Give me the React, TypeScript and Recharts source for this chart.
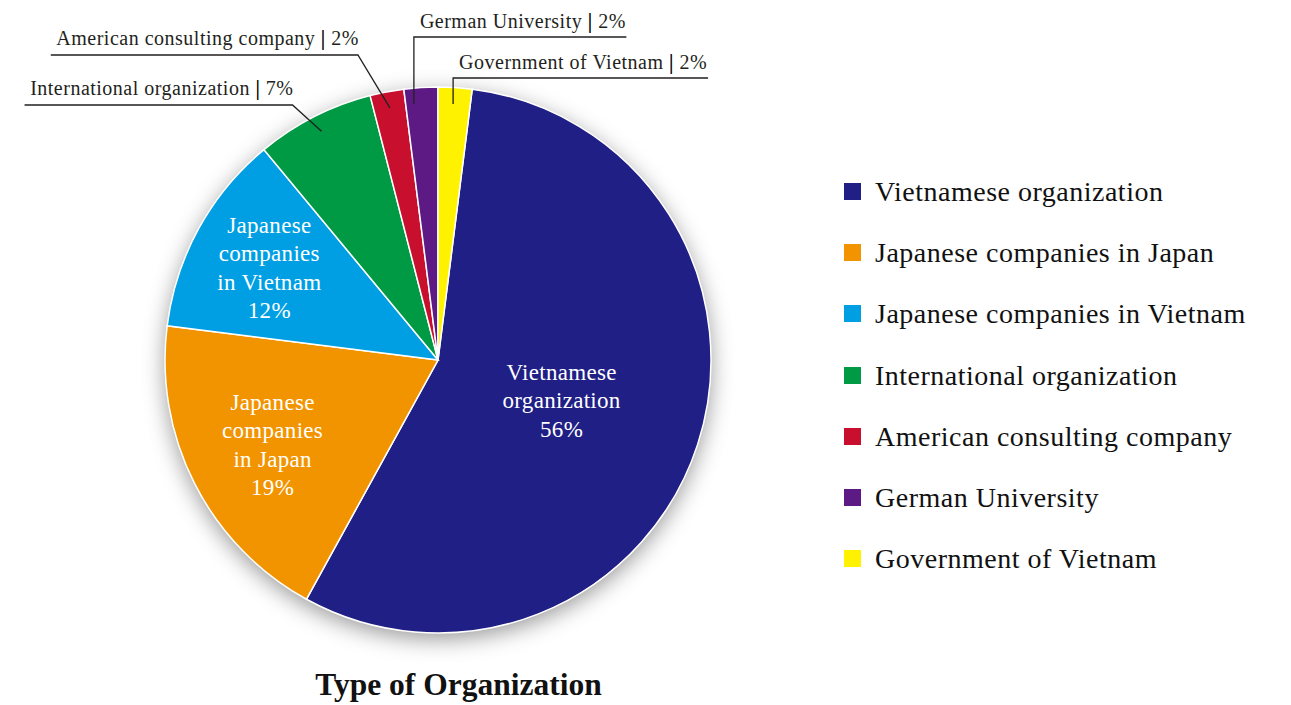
import { PieChart, Pie, Cell, Legend } from 'recharts';

const CATEGORIES = [
  'Vietnamese organization',
  'Japanese companies in Japan',
  'Japanese companies in Vietnam',
  'International organization',
  'American consulting company',
  'German University',
  'Government of Vietnam',
];
const SHARES = [56, 19, 12, 7, 2, 2, 2];
const COLORS = ['#1f1f85', '#f29400', '#009fe3', '#009a44', '#c8102e', '#5e1a84', '#fff200'];
const CHART_TITLE = 'Type of Organization';

const data = CATEGORIES.map((name, i) => ({ name, value: SHARES[i] }));
const total = SHARES.reduce((a, b) => a + b, 0);
// last slice (Government) ends exactly at 12 o'clock, going clockwise
const START = 90 - (SHARES[SHARES.length - 1] / total) * 360;

const SERIF = '"Liberation Serif", "Times New Roman", serif';
const INK = '#231f20';
const RADIAN = Math.PI / 180;

// leader line layout for the small slices (offsets relative to chart centre)
const LEADERS: Record<string, { side: 'left' | 'right'; elbowDx: number; lineDy: number }> = {
  'International organization': { side: 'left', elbowDx: -29, lineDy: -255 },
  'American consulting company': { side: 'left', elbowDx: -32, lineDy: -305 },
  'German University': { side: 'right', elbowDx: -8, lineDy: -323 },
  'Government of Vietnam': { side: 'right', elbowDx: -1, lineDy: -282 },
};

let canvas: HTMLCanvasElement | null = null;
function textWidth(text: string, font: string, spacing: number) {
  if (!canvas) canvas = document.createElement('canvas');
  const ctx = canvas.getContext('2d')!;
  ctx.font = font;
  return ctx.measureText(text).width + spacing * text.length;
}

function wrapName(name: string) {
  const words = name.split(' ');
  const lines: string[] = [];
  for (let i = 0; i < words.length; i++) {
    if (words[i] === 'in' && i + 1 < words.length) {
      lines.push(`in ${words[i + 1]}`);
      i++;
    } else {
      lines.push(words[i]);
    }
  }
  return lines;
}

function OuterText({ name, pct }: { name: string; pct: number }) {
  return (
    <>
      {name}{' '}
      <tspan fontWeight="bold" fill="#000">|</tspan> {pct}%
    </>
  );
}

function renderLabel(props: any) {
  const { cx, cy, midAngle, outerRadius, percent, name } = props;
  const pct = Math.round(percent * 100);
  const cos = Math.cos(-midAngle * RADIAN);
  const sin = Math.sin(-midAngle * RADIAN);

  const leader = LEADERS[name];
  if (!leader) {
    const ratio = percent > 0.5 ? 0.476 : percent > 0.15 ? 0.68 : 0.705;
    const r = outerRadius * ratio;
    const x = cx + r * cos;
    const y = cy + r * sin;
    const lines = [...wrapName(name), `${pct}%`];
    const lh = 28.5;
    return (
      <text x={x} y={y} fill="#fff" textAnchor="middle" fontFamily={SERIF} fontSize={23} style={{ letterSpacing: 0.3 }}>
        {lines.map((l, i) => (
          <tspan key={i} x={x} y={y + (i - (lines.length - 1) / 2) * lh} dy="0.35em">
            {l}
          </tspan>
        ))}
      </text>
    );
  }

  const r0 = outerRadius * 0.94;
  const w = textWidth(`${name} | ${pct}%`, `20px ${SERIF}`, 0.5);
  const lineY = cy + leader.lineDy;
  if (leader.side === 'left') {
    const px = cx + r0 * cos;
    const py = cy + r0 * sin;
    const ex = px + leader.elbowDx;
    return (
      <g>
        <path d={`M${px},${py}L${ex},${lineY}L${ex - w - 5},${lineY}`} stroke={INK} strokeWidth={1.3} fill="none" />
        <text x={ex + 1} y={lineY - 10} textAnchor="end" fill={INK} fontFamily={SERIF} fontSize={20} style={{ letterSpacing: 0.5 }}>
          <OuterText name={name} pct={pct} />
        </text>
      </g>
    );
  }
  const ex = cx + r0 * cos + leader.elbowDx;
  const py = cy + r0 * sin;
  return (
    <g>
      <path d={`M${ex},${py}L${ex},${lineY}L${ex + 6 + w + 1},${lineY}`} stroke={INK} strokeWidth={1.3} fill="none" />
      <text x={ex + 6} y={lineY - 9} textAnchor="start" fill={INK} fontFamily={SERIF} fontSize={20} style={{ letterSpacing: 0.5 }}>
        <OuterText name={name} pct={pct} />
      </text>
    </g>
  );
}

function LegendList() {
  return (
    <div style={{ fontFamily: SERIF, fontSize: 28, letterSpacing: 0.5, color: '#111' }}>
      {CATEGORIES.map((name, i) => (
        <div key={name} style={{ height: 61.2, lineHeight: '61.2px', display: 'flex', alignItems: 'center', whiteSpace: 'nowrap' }}>
          <span style={{ width: 17, height: 17, background: COLORS[i], display: 'inline-block', marginRight: 14, flexShrink: 0 }} />
          <span>{name}</span>
        </div>
      ))}
    </div>
  );
}

export default function App() {
  return (
    <div style={{ position: 'absolute', left: 0, top: 0, width: 1291, height: 705, background: '#fff', overflow: 'hidden' }}>
      <PieChart width={1291} height={705} margin={{ top: 0, right: 0, bottom: 0, left: 0 }}>
        <Pie
          data={[{ name: 'shadow', value: 1 }]}
          dataKey="value"
          cx={438}
          cy={360}
          outerRadius={273}
          stroke="none"
          isAnimationActive={false}
          legendType="none"
        >
          <Cell fill="#fff" style={{ filter: 'drop-shadow(0px 6px 11px rgba(0,0,0,0.4))' }} />
        </Pie>
        <Pie
          data={data}
          dataKey="value"
          nameKey="name"
          cx={438}
          cy={360}
          outerRadius={273}
          startAngle={START}
          endAngle={START - 360}
          stroke="#fff"
          strokeWidth={1.5}
          label={renderLabel}
          labelLine={false}
          isAnimationActive={false}
        >
          {data.map((d, i) => (
            <Cell key={d.name} fill={COLORS[i]} />
          ))}
        </Pie>
        <Legend
          layout="vertical"
          align="right"
          verticalAlign="top"
          content={() => <LegendList />}
          wrapperStyle={{ left: 844, top: 161, width: 440, right: 'auto' }}
        />
      </PieChart>
      <div
        style={{
          position: 'absolute',
          left: 0,
          width: 917,
          top: 667,
          textAlign: 'center',
          fontFamily: SERIF,
          fontWeight: 'bold',
          fontSize: 31.5,
          lineHeight: '36px',
          color: '#111',
        }}
      >
        {CHART_TITLE}
      </div>
    </div>
  );
}
